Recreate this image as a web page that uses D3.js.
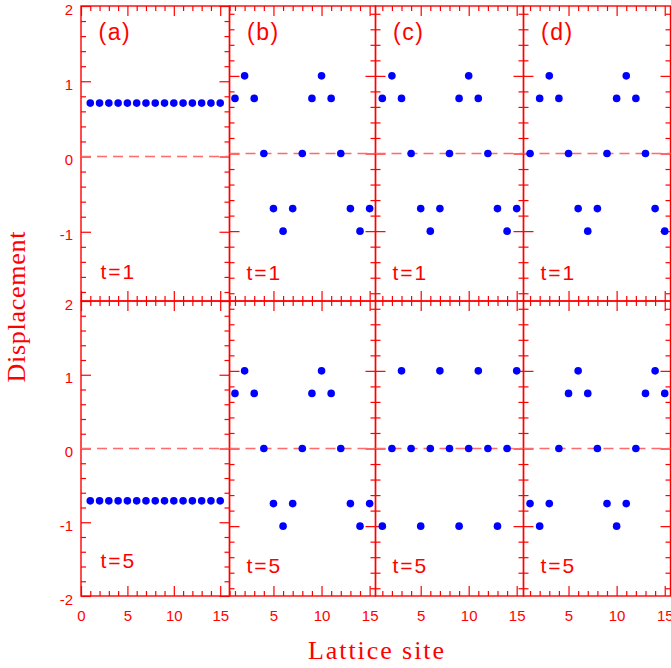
<!DOCTYPE html>
<html>
<head>
<meta charset="utf-8">
<script src="https://cdn.jsdelivr.net/npm/d3@7"></script>
<style>
  body { margin: 0; background: #fff; }
</style>
</head>
<body>
<svg id="svg" width="671" height="668"></svg>
<script>
// lattice sites and displacements
var sites = [1, 2, 3, 4, 5, 6, 7, 8, 9, 10, 11, 12, 13, 14, 15];
var panelTags = ["(a)", "(b)", "(c)", "(d)"];
var timeLabels = ["t=1", "t=5"];
var yTickLabels = [2, 1, 0, -1, -2];
var xTickLabelsFirst = [0, 5, 10, 15];
var xTickLabelsOther = [5, 10, 15];

var dispA1 = [0.71, 0.71, 0.71, 0.71, 0.71, 0.71, 0.71, 0.71, 0.71, 0.71, 0.71, 0.71, 0.71, 0.71, 0.71];
var dispB1 = [0.71, 1.0, 0.71, 0, -0.71, -1.0, -0.71, 0, 0.71, 1.0, 0.71, 0, -0.71, -1.0, -0.71];
var dispC1 = [0.71, 1.0, 0.71, 0, -0.71, -1.0, -0.71, 0, 0.71, 1.0, 0.71, 0, -0.71, -1.0, -0.71];
var dispD1 = [0, 0.71, 1.0, 0.71, 0, -0.71, -1.0, -0.71, 0, 0.71, 1.0, 0.71, 0, -0.71, -1.0];

var dispA5 = [-0.71, -0.71, -0.71, -0.71, -0.71, -0.71, -0.71, -0.71, -0.71, -0.71, -0.71, -0.71, -0.71, -0.71, -0.71];
var dispB5 = [0.71, 1.0, 0.71, 0, -0.71, -1.0, -0.71, 0, 0.71, 1.0, 0.71, 0, -0.71, -1.0, -0.71];
var dispC5 = [-1.0, 0, 1.0, 0, -1.0, 0, 1.0, 0, -1.0, 0, 1.0, 0, -1.0, 0, 1.0];
var dispD5 = [-0.71, -1.0, -0.71, 0, 0.71, 1.0, 0.71, 0, -0.71, -1.0, -0.71, 0, 0.71, 1.0, 0.71];

var series = [
  [dispA1, dispB1, dispC1, dispD1],
  [dispA5, dispB5, dispC5, dispD5]
];

// layout
var cols = [
  {x0: 81, x1: 229.5, dom: [0, 16]},
  {x0: 229.5, x1: 375.5, dom: [0.43, 15.61]},
  {x0: 375.5, x1: 523.5, dom: [0.29, 15.71]},
  {x0: 523.5, x1: 670.5, dom: [0.32, 15.6]}
];
var rows = [
  {y0: 6, y1: 301, domFirst: [-1.92, 2], dom: [-1.9, 1.9], tBase: [279, 280]},
  {y0: 301, y1: 596, domFirst: [-2, 2], dom: [-1.9, 1.9], tBase: [568, 573]}
];

var red = "#ff0000";
var svg = d3.select("#svg");

var noDomain = function(g) { g.select(".domain").remove(); };
var plain = d => String(d);

rows.forEach(function(row, ri) {
  cols.forEach(function(col, ci) {
    var x = d3.scaleLinear().domain(col.dom).range([col.x0, col.x1]);
    var y = d3.scaleLinear().domain(ci == 0 ? row.domFirst : row.dom).range([row.y1, row.y0]);

    var g = svg.append("g").attr("color", red);

    var yMajor = y.ticks(4);
    var yMinor = y.ticks(20).filter(v => Math.abs(v - Math.round(v)) > 1e-6);
    var xMajor = x.ticks(3);
    var xMinor = x.ticks(16).filter(v => v % 5 != 0);

    // inward ticks on all four sides
    g.append("g").attr("transform", "translate(" + col.x0 + ",0)")
      .call(d3.axisLeft(y).tickValues(yMinor).tickSize(-5).tickFormat("")).call(noDomain);
    g.append("g").attr("transform", "translate(" + col.x0 + ",0)")
      .call(d3.axisLeft(y).tickValues(yMajor).tickSize(-10).tickFormat("")).call(noDomain);
    g.append("g").attr("transform", "translate(" + col.x1 + ",0)")
      .call(d3.axisRight(y).tickValues(yMinor).tickSize(-5).tickFormat("")).call(noDomain);
    g.append("g").attr("transform", "translate(" + col.x1 + ",0)")
      .call(d3.axisRight(y).tickValues(yMajor).tickSize(-10).tickFormat("")).call(noDomain);
    g.append("g").attr("transform", "translate(0," + row.y1 + ")")
      .call(d3.axisBottom(x).tickValues(xMinor).tickSize(-5).tickFormat("")).call(noDomain);
    g.append("g").attr("transform", "translate(0," + row.y1 + ")")
      .call(d3.axisBottom(x).tickValues(xMajor).tickSize(-10).tickFormat("")).call(noDomain);
    g.append("g").attr("transform", "translate(0," + row.y0 + ")")
      .call(d3.axisTop(x).tickValues(xMinor).tickSize(-5).tickFormat("")).call(noDomain);
    g.append("g").attr("transform", "translate(0," + row.y0 + ")")
      .call(d3.axisTop(x).tickValues(xMajor).tickSize(-10).tickFormat("")).call(noDomain);
    g.selectAll(".tick line").attr("stroke-width", 1.2);

    // frame
    g.append("rect")
      .attr("x", col.x0).attr("y", row.y0)
      .attr("width", col.x1 - col.x0).attr("height", row.y1 - row.y0)
      .attr("fill", "none").attr("stroke", red).attr("stroke-width", 1.4);

    // tick labels
    if (ci == 0) {
      var yl = yTickLabels.filter(v => v >= y.domain()[0] && v <= y.domain()[1]);
      g.append("g").attr("transform", "translate(" + col.x0 + ",0)")
        .call(d3.axisLeft(y).tickValues(yl).tickSize(0).tickPadding(8).tickFormat(plain))
        .call(noDomain)
        .selectAll("text")
          .attr("dy", 8)
          .attr("fill", red)
          .attr("font-family", "Liberation Sans, Arial, sans-serif")
          .attr("font-size", 15);
    }
    if (ri == 1) {
      g.append("g").attr("transform", "translate(0," + row.y1 + ")")
        .call(d3.axisBottom(x).tickValues(ci == 0 ? xTickLabelsFirst : xTickLabelsOther)
          .tickSize(0).tickPadding(14).tickFormat(plain))
        .call(noDomain)
        .selectAll("text")
          .attr("fill", red)
          .attr("font-family", "Liberation Sans, Arial, sans-serif")
          .attr("font-size", 15);
    }

    // zero reference line
    svg.append("line")
      .attr("x1", col.x0).attr("x2", col.x1)
      .attr("y1", y(0)).attr("y2", y(0))
      .attr("stroke", "#ff6a6a")
      .attr("stroke-width", 1.5)
      .attr("stroke-dasharray", "10,6");

    // points
    svg.append("g")
      .attr("fill", "#0000ff")
    .selectAll("circle")
    .data(series[ri][ci])
    .join("circle")
      .attr("cx", (d, i) => x(sites[i]))
      .attr("cy", d => y(d))
      .attr("r", 3.8);

    // panel texts
    if (ri == 0) {
      svg.append("text")
        .attr("x", col.x0 + 17.5)
        .attr("y", 40)
        .attr("fill", red)
        .attr("font-family", "Liberation Sans, Arial, sans-serif")
        .attr("font-size", 23)
        .attr("letter-spacing", 1.5)
        .text(panelTags[ci]);
    }
    svg.append("text")
      .attr("x", col.x0 + (ci == 0 ? 19.5 : 17))
      .attr("y", row.tBase[ci == 0 ? 0 : 1])
      .attr("fill", red)
      .attr("font-family", "Liberation Sans, Arial, sans-serif")
      .attr("font-size", 21)
      .attr("letter-spacing", 2)
      .text(timeLabels[ri]);
  });
});

// axis titles
svg.append("text")
  .attr("x", 376)
  .attr("y", 659)
  .attr("text-anchor", "middle")
  .attr("fill", red)
  .attr("font-family", "Liberation Serif, Times New Roman, serif")
  .attr("font-size", 26)
  .attr("textLength", 136)
  .attr("lengthAdjust", "spacing")
  .text("Lattice site");

svg.append("text")
  .attr("transform", "translate(25,307) rotate(-90)")
  .attr("text-anchor", "middle")
  .attr("fill", red)
  .attr("font-family", "Liberation Serif, Times New Roman, serif")
  .attr("font-size", 26)
  .attr("textLength", 151)
  .attr("lengthAdjust", "spacing")
  .text("Displacement");
</script>
</body>
</html>
